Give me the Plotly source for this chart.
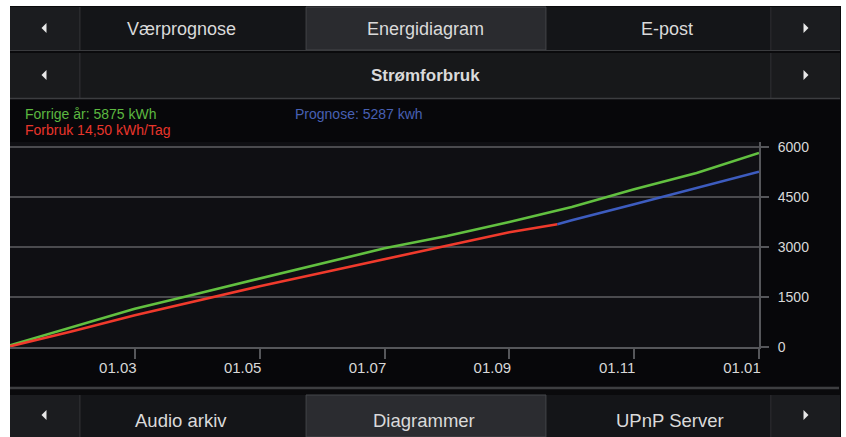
import plotly.graph_objects as go

# ---------------- data ----------------
months_prev = [0, 1, 2, 3, 4, 5, 6, 7, 8, 9, 10, 11, 12]
prev_year = [50, 590, 1150, 1600, 2050, 2490, 2960, 3330, 3750, 4200, 4730, 5220, 5820]

months_used = [0, 1, 2, 3, 4, 5, 6, 7, 8, 8.77]
used = [20, 470, 950, 1390, 1820, 2230, 2640, 3040, 3445, 3680]

months_prog = [8.77, 9, 10, 11, 12]
prognosis = [3680, 3800, 4280, 4770, 5260]

tick_months = [2, 4, 6, 8, 10, 12]
tick_labels = ["01.03", "01.05", "01.07", "01.09", "01.11", "01.01"]
y_ticks = [0, 1500, 3000, 4500, 6000]

top_tabs = ["Værprognose", "Energidiagram", "E-post"]
sub_title = "Strømforbruk"
bottom_tabs = ["Audio arkiv", "Diagrammer", "UPnP Server"]
legend_prev = "Forrige år: 5875 kWh"
legend_used = "Forbruk 14,50 kWh/Tag"
legend_prog = "Prognose: 5287 kwh"

# ---------------- layout helpers ----------------
W, H = 846, 437
L, R, T, B = 10, 759, 142, 347


def px(x):
    return (x - L) / (R - L)


def py(y):
    return (B - y) / (B - T)


shapes = []
annotations = []


def rect(x0, y0, x1, y1, fill, line=None, lw=0):
    shapes.append(dict(type="rect", xref="paper", yref="paper",
                       x0=px(x0), x1=px(x1), y0=py(y1), y1=py(y0),
                       fillcolor=fill,
                       line=dict(color=line or fill, width=lw),
                       layer="below"))


def hline(x0, x1, y, color, w):
    shapes.append(dict(type="line", xref="paper", yref="paper",
                       x0=px(x0), x1=px(x1), y0=py(y), y1=py(y),
                       line=dict(color=color, width=w), layer="below"))


def vline(x, y0, y1, color, w):
    shapes.append(dict(type="line", xref="paper", yref="paper",
                       x0=px(x), x1=px(x), y0=py(y0), y1=py(y1),
                       line=dict(color=color, width=w), layer="below"))


def arrow(cx, cy, direction):
    if direction < 0:
        pts = [(cx + 2.5, cy - 5), (cx - 2.5, cy), (cx + 2.5, cy + 5)]
    else:
        pts = [(cx - 2.5, cy - 5), (cx + 2.5, cy), (cx - 2.5, cy + 5)]
    path = "M {} {} L {} {} L {} {} Z".format(
        px(pts[0][0]), py(pts[0][1]), px(pts[1][0]), py(pts[1][1]),
        px(pts[2][0]), py(pts[2][1]))
    shapes.append(dict(type="path", xref="paper", yref="paper", path=path,
                       fillcolor="#e8e8e8", line=dict(color="#e8e8e8", width=0),
                       layer="below"))


def text(x, y, s, size, color, anchor="center", bold=False):
    annotations.append(dict(xref="paper", yref="paper", x=px(x), y=py(y),
                            text=("<b>%s</b>" % s) if bold else s,
                            showarrow=False, xanchor=anchor, yanchor="middle",
                            font=dict(family="Liberation Sans, Arial, sans-serif",
                                      size=size, color=color)))


# dark frame
rect(10, 6, 841, 437, "#0a0a0c")

# ---- row 1 (tabs) ----
rect(10, 7, 80, 50, "#1b1c1f")
rect(81, 7, 305, 50, "#141518")
rect(306, 7, 546, 50, "#2a2b2f", "#45464a", 1)
rect(547, 7, 771, 50, "#141518")
rect(772, 7, 840, 50, "#1b1c1f")
vline(80, 7, 50, "#38393c", 1)
vline(771, 7, 50, "#38393c", 1)
hline(10, 840, 50.5, "#3a3b3e", 1)

# ---- row 2 ----
rect(10, 53, 80, 98, "#1a1b1d")
rect(81, 53, 771, 98, "#17181a")
rect(772, 53, 840, 98, "#1a1b1d")
vline(80, 53, 98, "#38393c", 1)
vline(771, 53, 98, "#38393c", 1)
hline(10, 840, 98.5, "#3c3d40", 1.5)

# ---- chart panel ----
rect(10, 100, 840, 386, "#07070a")
rect(10, T, R, B, "#0f0f13")
hline(10, 839, 388, "#3d3e41", 2.5)

# ---- bottom row ----
rect(10, 395, 80, 437, "#1b1c1f")
rect(81, 395, 305, 437, "#141518")
rect(306, 395, 546, 437, "#2b2c30", "#45464a", 1)
rect(547, 395, 771, 437, "#141518")
rect(772, 395, 840, 437, "#1b1c1f")
vline(80, 395, 437, "#38393c", 1)
vline(771, 395, 437, "#38393c", 1)

# arrows
for cy in (28, 75, 415):
    arrow(44, cy, -1)
    arrow(806, cy, 1)

# labels
text(181, 29, top_tabs[0], 18, "#dadada")
text(425, 29, top_tabs[1], 18, "#dadada")
text(667, 29, top_tabs[2], 18, "#dadada")
text(425, 76, sub_title, 17, "#dadada", bold=True)
text(181, 420, bottom_tabs[0], 18.5, "#dadada")
text(424, 420, bottom_tabs[1], 18.5, "#dadada")
text(670, 420, bottom_tabs[2], 18.5, "#dadada")

text(23, 114, legend_prev, 14, "#5cb840", anchor="left")
text(23, 130, legend_used, 14, "#e8352b", anchor="left")
text(293, 114, legend_prog, 14, "#4760b3", anchor="left")

# ---------------- figure ----------------
fig = go.Figure()
fig.add_trace(go.Scatter(x=months_prev, y=prev_year, mode="lines",
                         line=dict(color="#62c040", width=2.6),
                         hoverinfo="skip", showlegend=False))
fig.add_trace(go.Scatter(x=months_used, y=used, mode="lines",
                         line=dict(color="#f03a2c", width=2.6),
                         hoverinfo="skip", showlegend=False))
fig.add_trace(go.Scatter(x=months_prog, y=prognosis, mode="lines",
                         line=dict(color="#3d5cbf", width=2.6),
                         hoverinfo="skip", showlegend=False))

ytick_font = dict(family="Liberation Sans, Arial, sans-serif", size=14, color="#d8d8d8")
xtick_font = dict(family="Liberation Sans, Arial, sans-serif", size=15, color="#d8d8d8")

fig.update_layout(
    width=W, height=H,
    margin=dict(l=L, r=W - R, t=T, b=H - B, pad=0),
    paper_bgcolor="white",
    plot_bgcolor="rgba(0,0,0,0)",
    showlegend=False,
    shapes=shapes,
    annotations=annotations,
    xaxis=dict(range=[0, 12], tickvals=tick_months, ticktext=tick_labels,
               ticks="outside", ticklen=10, tickwidth=2, tickcolor="#55565a",
               showline=True, linecolor="#55565a", linewidth=2,
               showgrid=False, zeroline=False, tickfont=xtick_font,
               ticklabelshift=-17, ticklabelstandoff=-4, automargin=False,
               fixedrange=True),
    yaxis=dict(range=[0, 6150], tickvals=y_ticks, side="right",
               ticks="outside", ticklen=8, tickwidth=2, tickcolor="#55565a",
               showline=True, linecolor="#55565a", linewidth=2,
               showgrid=True, gridcolor="#4a4a4e", gridwidth=2,
               zeroline=False, tickfont=ytick_font, ticklabelstandoff=6,
               automargin=False, fixedrange=True),
)

fig.write_html("out.html", config={"displayModeBar": False},
               post_script="document.body.style.margin='0px';")
